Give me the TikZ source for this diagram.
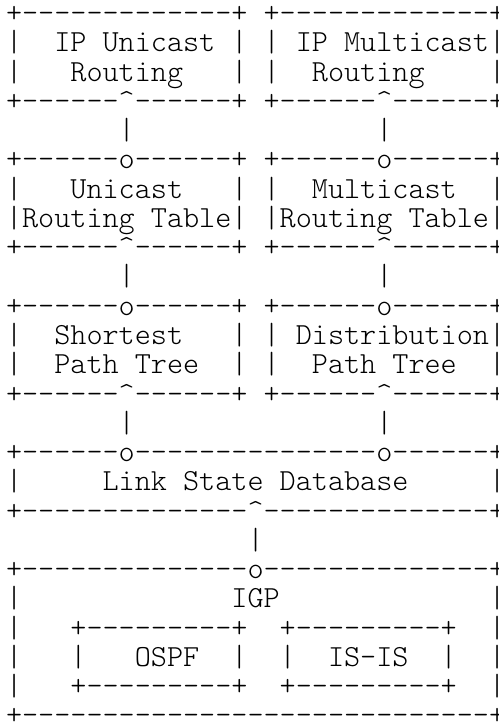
\documentclass[tikz,border=0pt]{standalone}
\usepackage{fontspec}
\newfontfamily\asciimono{Latin Modern Mono Light}[Ligatures=TeXOff]
\newcommand\caret{\textasciicircum}
\tikzset{asc/.style={anchor=base west, inner sep=0pt, outer sep=0pt, text=black,
  font=\fontsize{30.67}{29.27}\selectfont\asciimono}}
\newcommand\rowy[1]{722-22.5-(#1-1)*29.27}
\begin{document}
\begin{tikzpicture}[x=1pt,y=1pt]
\useasboundingbox (0,0) rectangle (498,722);
\fill[white] (0,0) rectangle (498,722);
\node[asc] (r1)  at (6,{\rowy{1}})  {+-------------+~+-------------+};
\node[asc] (r2)  at (6,{\rowy{2}})  {|~~IP~Unicast~|~|~IP~Multicast|};
\node[asc] (r3)  at (6,{\rowy{3}})  {|~~~Routing~~~|~|~~Routing~~~~|};
\node[asc] (r4)  at (6,{\rowy{4}})  {+------\caret------+~+------\caret------+};
\node[asc] (r5)  at (6,{\rowy{5}})  {~~~~~~~|~~~~~~~~~~~~~~~|};
\node[asc] (r6)  at (6,{\rowy{6}})  {+------o------+~+------o------+};
\node[asc] (r7)  at (6,{\rowy{7}})  {|~~~Unicast~~~|~|~~Multicast~~|};
\node[asc] (r8)  at (6,{\rowy{8}})  {|Routing~Table|~|Routing~Table|};
\node[asc] (r9)  at (6,{\rowy{9}})  {+------\caret------+~+------\caret------+};
\node[asc] (r10) at (6,{\rowy{10}}) {~~~~~~~|~~~~~~~~~~~~~~~|};
\node[asc] (r11) at (6,{\rowy{11}}) {+------o------+~+------o------+};
\node[asc] (r12) at (6,{\rowy{12}}) {|~~Shortest~~~|~|~Distribution|};
\node[asc] (r13) at (6,{\rowy{13}}) {|~~Path~Tree~~|~|~~Path~Tree~~|};
\node[asc] (r14) at (6,{\rowy{14}}) {+------\caret------+~+------\caret------+};
\node[asc] (r15) at (6,{\rowy{15}}) {~~~~~~~|~~~~~~~~~~~~~~~|};
\node[asc] (r16) at (6,{\rowy{16}}) {+------o---------------o------+};
\node[asc] (r17) at (6,{\rowy{17}}) {|~~~~~Link~State~Database~~~~~|};
\node[asc] (r18) at (6,{\rowy{18}}) {+--------------\caret--------------+};
\node[asc] (r19) at (6,{\rowy{19}}) {~~~~~~~~~~~~~~~|};
\node[asc] (r20) at (6,{\rowy{20}}) {+--------------o--------------+};
\node[asc] (r21) at (6,{\rowy{21}}) {|~~~~~~~~~~~~~IGP~~~~~~~~~~~~~|};
\node[asc] (r22) at (6,{\rowy{22}}) {|~~~+---------+~~+---------+~~|};
\node[asc] (r23) at (6,{\rowy{23}}) {|~~~|~~~OSPF~~|~~|~~IS-IS~~|~~|};
\node[asc] (r24) at (6,{\rowy{24}}) {|~~~+---------+~~+---------+~~|};
\node[asc] (r25) at (6,{\rowy{25}}) {+-----------------------------+};
\end{tikzpicture}
\end{document}
